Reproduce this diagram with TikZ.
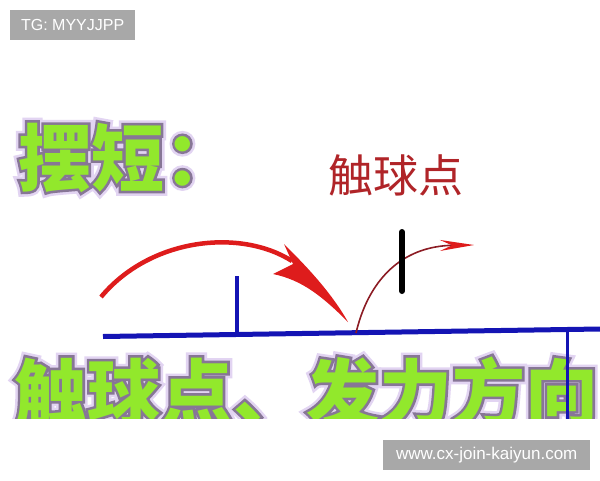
\documentclass[tikz,border=0pt]{standalone}
\usepackage{fontspec}
\newfontfamily\cjk{Noto Sans CJK SC}
\newfontfamily\wmfont{Liberation Sans}
\usetikzlibrary{arrows.meta}
\definecolor{padgreen}{RGB}{146,232,44}
\definecolor{padrim}{RGB}{135,118,150}
\definecolor{padglow}{RGB}{226,212,242}
\definecolor{tableblue}{RGB}{20,20,180}
\definecolor{hitred}{RGB}{176,36,40}
\definecolor{arcred}{RGB}{222,28,28}
\definecolor{thinred}{RGB}{140,28,36}
\definecolor{markgray}{RGB}{168,168,168}

\begin{document}
\begin{tikzpicture}[x=1pt,y=-1pt,
  bigword/.style={font=\cjk\bfseries\fontsize{73}{73}\selectfont, inner sep=0pt, anchor=base west},
  wordrim/.style={bigword, text=padrim, font=\cjk\bfseries\fontsize{73}{73}\selectfont\addfontfeatures{FakeBold=7}},
  wordglow/.style={bigword, text=padglow, font=\cjk\bfseries\fontsize{73}{73}\selectfont\addfontfeatures{FakeBold=14}},
  tag/.style={fill=markgray, text=white, inner sep=0pt, minimum height=30pt, anchor=north west}]
  % Page
  \fill[white] (0,0) rectangle (600,480);
  \useasboundingbox (0,0) rectangle (600,480);
  % Title with its rim and glow
  \node[wordglow] (titleglow) at (18,185) {摆短：};
  \node[wordrim] (titlerim) at (18,185) {摆短：};
  \node[bigword, text=padgreen] (title) at (18,185) {摆短：};
  % Label over the contact point
  \node[font=\cjk\fontsize{45}{45}\selectfont, text=hitred, inner sep=0pt, anchor=base west] (hit) at (328,192) {触球点};
  % Table and net
  \coordinate (tl) at (103,336.5);
  \coordinate (tr) at (600,329);
  \draw[tableblue, line width=5] (tl) -- (tr);
  \draw[tableblue, line width=4] (237,276) -- (237,334);
  % Incoming ball
  \draw[arcred, line width=4.5] (101,297) .. controls (150,238) and (240,228) .. (292,261);
  \fill[arcred] (284,244) .. controls (302,262) and (330,290) .. (348,322)
    .. controls (322,296) and (302,280) .. (273,274) -- (293,264) -- cycle;
  % Short return
  \draw[thinred, line width=1.6, -{Stealth[length=34pt, width=11pt, inset=12pt, color=arcred]}]
    (356,333) .. controls (368,282) and (400,246) .. (474,245);
  \draw[line width=6, line cap=round] (402,232) -- (402,291);
  % Caption, cut at the bottom
  \begin{scope}
    \clip (0,0) rectangle (600,418);
    \node[wordglow] (captionglow) at (14,420) {触球点、发力方向};
    \node[wordrim] (captionrim) at (14,420) {触球点、发力方向};
    \node[bigword, text=padgreen] (caption) at (14,420) {触球点、发力方向};
    \draw[tableblue, line width=3] (567,329) -- (567,420);
  \end{scope}
  % Marks
  \node[tag, minimum width=125pt, font=\wmfont\fontsize{16}{16}\selectfont] (tg) at (10,10) {TG: MYYJJPP};
  \node[tag, minimum width=207pt, font=\wmfont\fontsize{17}{17}\selectfont] (site) at (383,440) {www.cx-join-kaiyun.com};
\end{tikzpicture}
\end{document}
